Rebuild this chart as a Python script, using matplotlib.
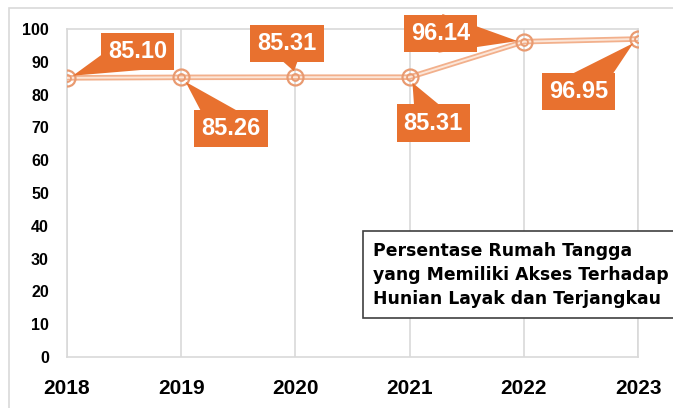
import numpy as np
import matplotlib.pyplot as plt
from matplotlib.patches import Rectangle, Polygon
from matplotlib.transforms import Affine2D, ScaledTranslation

years = [2018, 2019, 2020, 2021, 2022, 2023]
persen = [85.10, 85.26, 85.31, 85.31, 96.14, 96.95]
# offset of each value box from its point, in points
label_offsets = [(51, 19), (36, -37), (-6, 24), (17, -33), (-60, 6), (-43, -38)]

orange = "#E8712F"
line_col = "#F2B08C"

fig = plt.figure(figsize=(6.73, 4.08), dpi=100)
ax = fig.add_axes([67 / 673, 1 - 357 / 408, (638 - 67) / 673, (357 - 29) / 408])

# light frame round the whole chart
fig.patches.append(Rectangle((9 / 673, -0.1), 1.2, 1 - 8 / 408 + 0.1,
                             transform=fig.transFigure, fill=False,
                             ec="#D9D9D9", lw=1.2))

# double line with ringed markers
ax.plot(years, persen, color=line_col, lw=4, solid_capstyle="butt", zorder=3)
ax.plot(years, persen, color="#FCE6D8", lw=1.4, zorder=4)
ax.plot(years, persen, ls="none", marker="o", ms=11.5, mfc="none",
        mec="#E99A70", mew=1.6, zorder=5)
ax.plot(years, persen, ls="none", marker="o", ms=5, mfc="none",
        mec="#E99A70", mew=1.3, zorder=5)

# value boxes with a wedge pointing at each point
for x, y, (dx, dy) in zip(years, persen, label_offsets):
    ax.annotate(f"{y:.2f}", xy=(x, y), xytext=(dx, dy), textcoords="offset points",
                ha="center", va="center", color="white", fontsize=17,
                fontweight="bold", family="Liberation Sans", zorder=7,
                bbox=dict(boxstyle="square,pad=0.3", fc=orange, ec="none"))
    d = np.hypot(dx, dy)
    ux, uy = dx / d, dy / d
    hw = 14
    tip = (ux * 4.5, uy * 4.5)
    pts = [tip, (dx - uy * hw, dy + ux * hw), (dx + uy * hw, dy - ux * hw)]
    tr = Affine2D().scale(1 / 72) + fig.dpi_scale_trans + ScaledTranslation(x, y, ax.transData)
    ax.add_patch(Polygon(pts, closed=True, fc=orange, ec="none",
                         transform=tr, zorder=6, clip_on=False))

ax.set_xlim(2018, 2023)
ax.set_ylim(0, 100)
ax.set_yticks(range(0, 101, 10))
ax.set_xticks(years)
ax.grid(axis="x", color="#D9D9D9", lw=1.2)
for s in ax.spines.values():
    s.set_color("#D9D9D9")
    s.set_linewidth(1.2)
ax.tick_params(length=0)
ax.tick_params(axis="y", pad=13, labelsize=11.5)
ax.tick_params(axis="x", pad=16, labelsize=15)
for lab in ax.get_yticklabels() + ax.get_xticklabels():
    lab.set_fontweight("bold")
    lab.set_family("Liberation Sans")

# title box running off the right edge
fig.patches.append(Rectangle((363 / 673, 1 - 318 / 408), 0.6, 87 / 408,
                             transform=fig.transFigure, fc="white",
                             ec="#404040", lw=1.2, zorder=8))
fig.text(373 / 673, 1 - 275 / 408,
         "Persentase Rumah Tangga\nyang Memiliki Akses Terhadap\nHunian Layak dan Terjangkau",
         ha="left", va="center", fontsize=12.4, fontweight="bold",
         family="DejaVu Sans", linespacing=1.4, zorder=9)

fig.savefig("out.png", dpi=100)
